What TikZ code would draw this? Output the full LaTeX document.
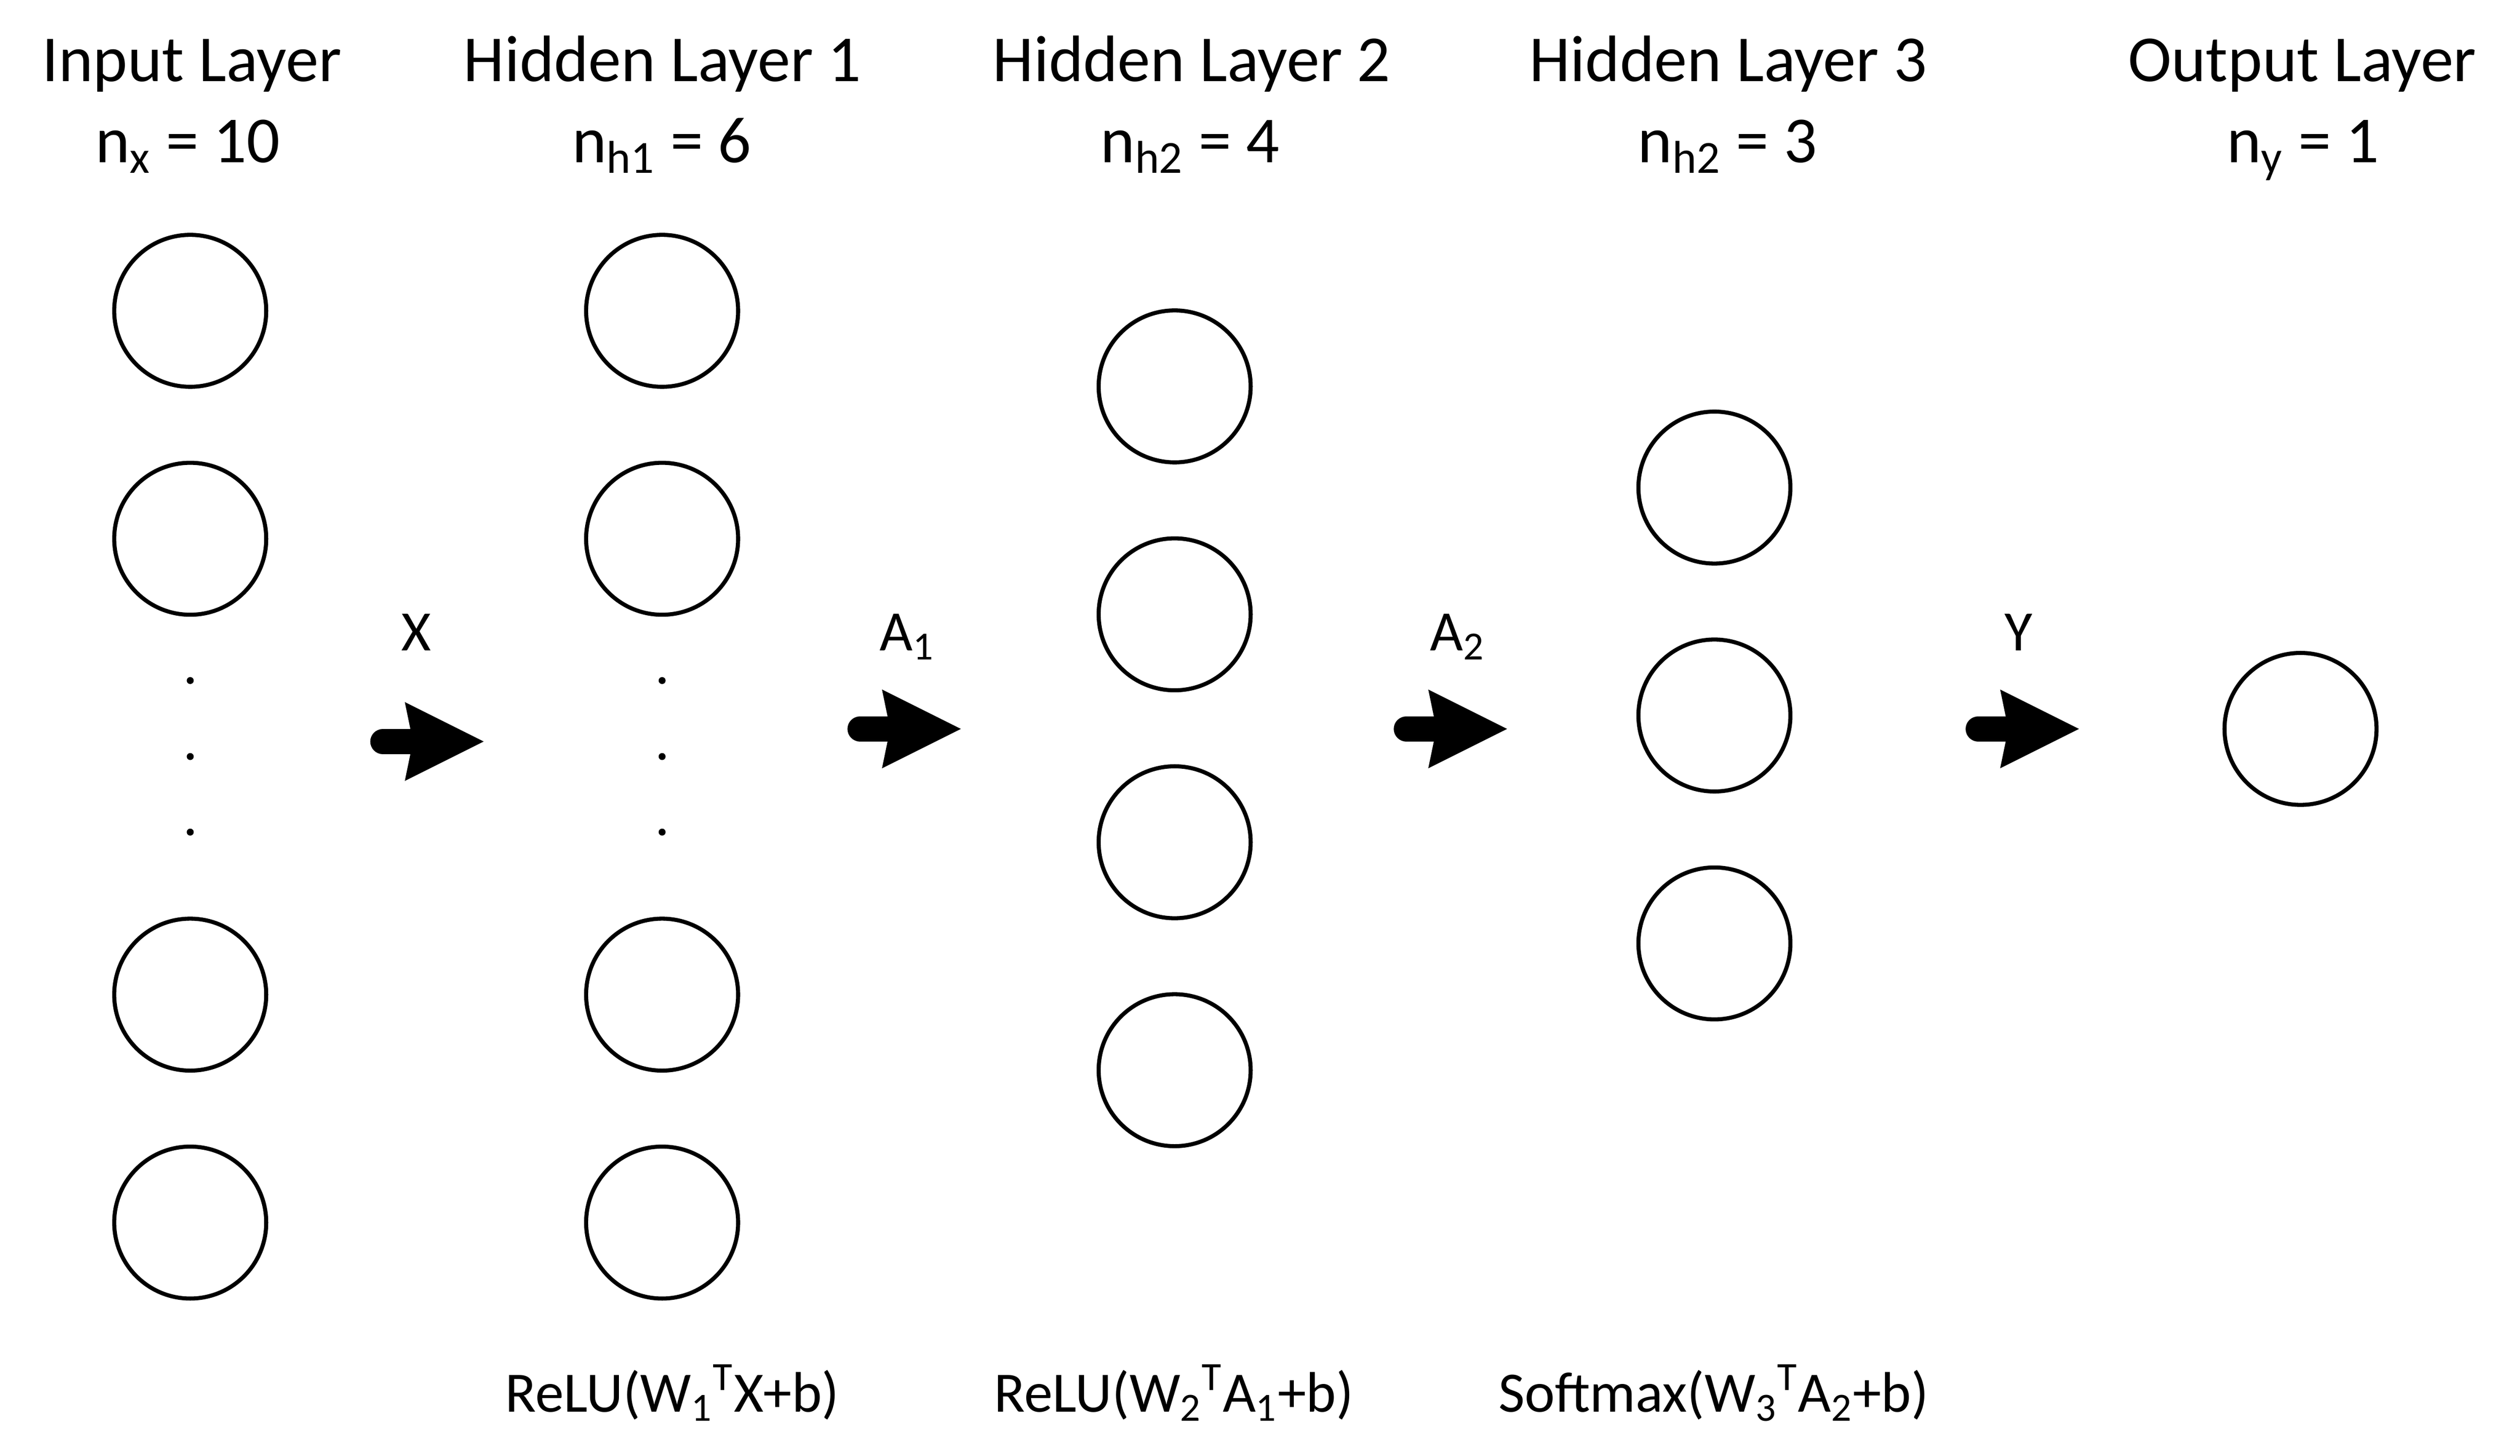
\documentclass[tikz,border=0pt]{standalone}
\usepackage{fontspec}
\setmainfont{Carlito}
\usetikzlibrary{arrows.meta,positioning}

\begin{document}
\begin{tikzpicture}[
    neuron/.style={circle, draw, line width=0.05cm, minimum size=1.87cm, inner sep=0pt},
    layertitle/.style={anchor=base, inner sep=0pt, font=\fontsize{23}{28}\selectfont},
    formula/.style={anchor=base, inner sep=0pt, font=\fontsize{20}{24}\selectfont},
    flow/.style={line width=0.31cm, line cap=round, -{Stealth[length=9.7mm, width=9.7mm, inset=1mm, line width=0pt]}}
]
    \useasboundingbox (0,0) rectangle (31,-17.915);

    % Titles
    \node[layertitle] (in-title) at (2.36,-1.0) {Input Layer};
    \node[layertitle] (in-size) at (2.31,-2.0) {n\textsubscript{x} = 10};
    \node[layertitle] (h1-title) at (8.15,-1.0) {Hidden Layer 1};
    \node[layertitle] (h1-size) at (8.14,-2.0) {n\textsubscript{h1} = 6};
    \node[layertitle] (h2-title) at (14.66,-1.0) {Hidden Layer 2};
    \node[layertitle] (h2-size) at (14.64,-2.0) {n\textsubscript{h2} = 4};
    \node[layertitle] (h3-title) at (21.26,-1.0) {Hidden Layer 3};
    \node[layertitle] (h3-size) at (21.25,-2.0) {n\textsubscript{h2} = 3};
    \node[layertitle] (out-title) at (28.32,-1.0) {Output Layer};
    \node[layertitle] (out-size) at (28.33,-2.0) {n\textsubscript{y} = 1};

    % Input layer and hidden layer 1
    \foreach \i/\y in {1/-3.825, 2/-6.63, 3/-12.24, 4/-15.045} {
        \node[neuron] (in\i) at (2.34,\y) {};
        \node[neuron] (ha\i) at (8.145,\y) {};
    }
    \foreach \y in {-8.375, -9.31, -10.24} {
        \fill (2.34,\y) circle (0.043);
        \fill (8.145,\y) circle (0.043);
    }

    % Hidden layer 2
    \foreach \i in {1,...,4}
        \node[neuron] (hb\i) at (14.45,{-4.755-2.805*(\i-1)}) {};

    % Hidden layer 3
    \foreach \i in {1,...,3}
        \node[neuron] (hc\i) at (21.09,{-6.0-2.805*(\i-1)}) {};

    % Output layer
    \node[neuron] (out) at (28.30,-8.97) {};

    % Flow between layers
    \coordinate (xa) at (4.71,-9.125);
    \coordinate (xb) at (5.95,-9.125);
    \coordinate (aa) at (10.58,-8.97);
    \coordinate (ab) at (11.82,-8.97);
    \coordinate (ba) at (17.30,-8.97);
    \coordinate (bb) at (18.54,-8.97);
    \coordinate (ya) at (24.335,-8.97);
    \coordinate (yb) at (25.575,-8.97);
    \draw[flow] (xa) -- (xb);
    \draw[flow] (aa) -- (ab);
    \draw[flow] (ba) -- (bb);
    \draw[flow] (ya) -- (yb);
    \node[formula] (x-lbl) at (5.12,-8.01) {X};
    \node[formula] (a1-lbl) at (11.16,-8.01) {A\textsubscript{1}};
    \node[formula] (a2-lbl) at (17.93,-8.01) {A\textsubscript{2}};
    \node[formula] (y-lbl) at (24.83,-8.01) {Y};

    % Activations
    \node[formula] (act1) at (8.27,-17.375) {ReLU(W\textsubscript{1}\textsuperscript{T}X+b)};
    \node[formula] (act2) at (14.44,-17.375) {ReLU(W\textsubscript{2}\textsuperscript{T}A\textsubscript{1}+b)};
    \node[formula] (act3) at (21.08,-17.375) {Softmax(W\textsubscript{3}\textsuperscript{T}A\textsubscript{2}+b)};
\end{tikzpicture}
\end{document}
